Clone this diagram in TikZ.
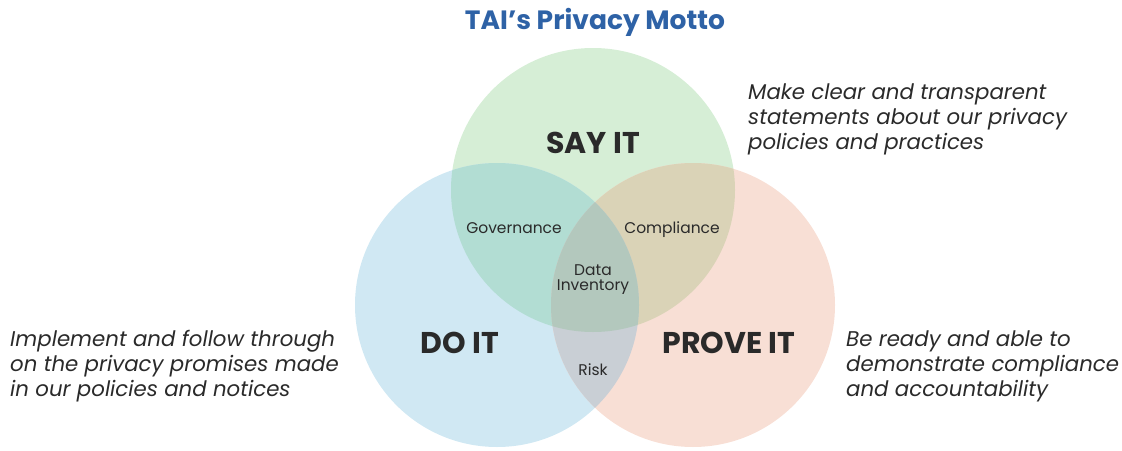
\documentclass[tikz,border=0pt]{standalone}
\usepackage{fontspec}
\setmainfont{Poppins}
\definecolor{cgreen}{HTML}{D6EED6}
\definecolor{cblue}{HTML}{D0E8F3}
\definecolor{cred}{HTML}{F8DFD5}
\definecolor{cgov}{HTML}{B2DDD3}
\definecolor{ccomp}{HTML}{DAD3B7}
\definecolor{ccenter}{HTML}{B3C8BD}
\definecolor{crisk}{HTML}{C9CFD5}
\definecolor{ctitle}{HTML}{2E62A6}
\definecolor{ctext}{HTML}{2A2A2A}
\tikzset{
  big/.style={font=\fontsize{30}{33}\selectfont\bfseries, text=ctext},
  small/.style={font=\fontsize{15.5}{16}\selectfont, text=ctext, align=center},
  side/.style={font=\fontsize{21.3}{25}\selectfont\itshape, text=ctext, align=left, anchor=west, inner sep=0pt},
}
\begin{document}
\begin{tikzpicture}[x=1pt,y=-1pt]
\useasboundingbox (0,0) rectangle (1122,450);
\coordinate (G) at (593,190);
\coordinate (B) at (497,305);
\coordinate (R) at (693,305);
\def\rr{142}
\fill[cgreen] (G) circle (\rr);
\fill[cblue] (B) circle (\rr);
\fill[cred] (R) circle (\rr);
\begin{scope}\clip (G) circle (\rr); \fill[cgov] (B) circle (\rr); \end{scope}
\begin{scope}\clip (G) circle (\rr); \fill[ccomp] (R) circle (\rr); \end{scope}
\begin{scope}\clip (B) circle (\rr); \fill[crisk] (R) circle (\rr); \end{scope}
\begin{scope}\clip (G) circle (\rr); \clip (B) circle (\rr); \fill[ccenter] (R) circle (\rr); \end{scope}
\node[font=\fontsize{26.5}{28}\selectfont\bfseries, text=ctitle] (title) at (595,22) {TAI’s Privacy Motto};
\node[big] (say) at (593,143) {SAY IT};
\node[big] (do) at (460,343) {DO IT};
\node[big] (prove) at (729,343) {PROVE IT};
\node[small, anchor=base] (gov) at (514,233.5) {Governance};
\node[small, anchor=base] (comp) at (672,233.5) {Compliance};
\node[small] (data) at (593,280) {Data\\[-1pt]Inventory};
\node[small, anchor=base] (risk) at (593,375.5) {Risk};
\node[side] (tl) at (10,366) {Implement and follow through\\on the privacy promises made\\in our policies and notices};
\node[side] (tr) at (748,119) {Make clear and transparent\\statements about our privacy\\policies and practices};
\node[side] (br) at (846,366) {Be ready and able to\\demonstrate compliance\\and accountability};
\end{tikzpicture}
\end{document}
